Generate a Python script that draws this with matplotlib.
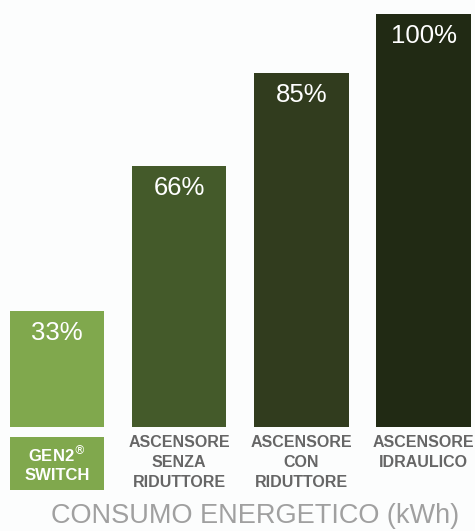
import matplotlib.pyplot as plt

# data
categories = ["GEN2$^{\\circledR}$\nSWITCH", "ASCENSORE\nSENZA\nRIDUTTORE",
              "ASCENSORE\nCON\nRIDUTTORE", "ASCENSORE\nIDRAULICO"]
labels = ["33%", "66%", "85%", "100%"]
heights = [28.1, 63.2, 85.7, 100]
colors = ["#80a84d", "#445a2a", "#313c1e", "#212a14"]

plt.rcParams['font.family'] = ['Liberation Sans', 'DejaVu Sans']

fig = plt.figure(figsize=(4.75, 5.31), dpi=100)
fig.patch.set_facecolor("#fcfdfd")
ax = fig.add_axes([0, 104 / 531, 1, 413 / 531])
ax.set_facecolor("#fcfdfd")

x = list(range(len(heights)))
ax.bar(x, heights, width=0.774, color=colors, edgecolor="none")
ax.set_xlim(-0.4666, 3.4215)
ax.set_ylim(0, 100)
ax.axis("off")

for i, (h, lab) in enumerate(zip(heights, labels)):
    ax.annotate(lab, xy=(i, h), xytext=(0, -10), textcoords="offset pixels",
                ha="center", va="top", color="white", fontsize=18.5)

# highlighted box under first bar
ax.bar([0], [12.8], bottom=-15.25, width=0.774, color=colors[0],
       edgecolor="none", clip_on=False)

for i, cat in enumerate(categories):
    if i == 0:
        ax.annotate(cat, xy=(i, 0), xytext=(0, -17), textcoords="offset pixels",
                    ha="center", va="top", color="white", fontsize=12,
                    fontweight="bold", linespacing=1.25)
    else:
        ax.annotate(cat, xy=(i, 0), xytext=(0, -8), textcoords="offset pixels",
                    ha="center", va="top", color="#666666", fontsize=11.5,
                    fontweight="bold", linespacing=1.4)

fig.text(255.5 / 475, 15 / 531, "CONSUMO ENERGETICO (kWh)", ha="center",
         va="center", color="#a0a0a0", fontsize=19.5)

fig.savefig("out.png", dpi=100, facecolor=fig.get_facecolor())
